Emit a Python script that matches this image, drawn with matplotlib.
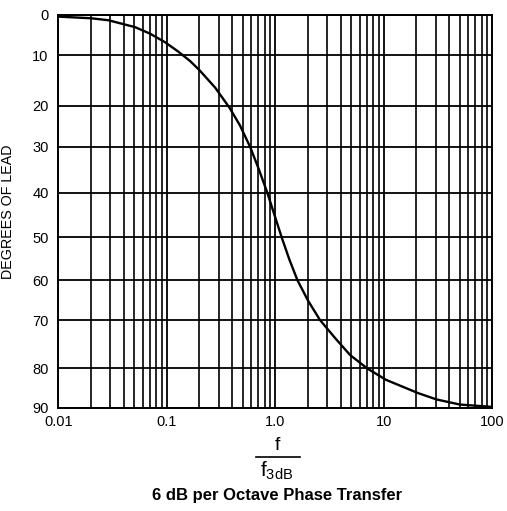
import numpy as np
import matplotlib
matplotlib.use('Agg')
import matplotlib.pyplot as plt
import matplotlib.ticker as ticker
from matplotlib.lines import Line2D

plt.rcParams['font.family'] = ['Liberation Sans', 'DejaVu Sans']
plt.rcParams['mathtext.fontset'] = 'custom'
plt.rcParams['mathtext.rm'] = 'Liberation Sans'

# values
freq_ratio = [0.01, 0.02, 0.029, 0.051, 0.07, 0.096, 0.127, 0.164, 0.2, 0.28, 0.38, 0.473,
              0.585, 0.70, 0.844, 1.146, 1.35, 1.6, 2.0, 2.58, 3.55, 4.88, 7.05, 10.5,
              20.8, 30.7, 50.4, 100]
degrees_lead = [0.4, 0.8, 1.3, 3.0, 4.6, 6.7, 9.0, 11.1, 12.9, 16.4, 20.5, 24.8,
                30, 34.7, 40, 50, 55.2, 60, 65.1, 70, 73.7, 77.2, 80, 82.9,
                86.3, 87.9, 89.2, 89.8]

x_ticks = [0.01, 0.1, 1.0, 10, 100]
x_labels = ['0.01', '0.1', '1.0', '10', '100']
y_ticks = [0, 10, 20, 30, 40, 50, 60, 70, 80, 90]

# the printed grid is not evenly spaced, so map degrees through the drawn rows
row_px = [0, 40.5, 91, 131.7, 177.7, 222.5, 265.2, 305, 353.5, 392.7]


def fwd(d):
    return np.interp(d, y_ticks, row_px)


def inv(v):
    return np.interp(v, row_px, y_ticks)


W, H = 507, 511
fig = plt.figure(figsize=(W / 100, H / 100), dpi=100)
ax = fig.add_axes([58.3 / W, 1 - 407.7 / H, 434 / W, 392.7 / H])

ax.set_xscale('log')
ax.set_yscale('function', functions=(fwd, inv))
ax.set_xlim(0.01, 100)
ax.set_ylim(90, 0)

ax.plot(freq_ratio, degrees_lead, color='black', lw=1.7,
        solid_capstyle='round', solid_joinstyle='round', zorder=3)

ax.set_xticks(x_ticks)
ax.set_xticklabels(x_labels)
ax.xaxis.set_minor_locator(ticker.LogLocator(base=10, subs=np.arange(2, 10)))
ax.xaxis.set_minor_formatter(ticker.NullFormatter())
ax.set_yticks(y_ticks)
ax.set_yticklabels([str(t) for t in y_ticks])

ax.grid(which='major', axis='both', color='black', lw=1.3)
ax.grid(which='minor', axis='x', color='black', lw=1.2)
ax.tick_params(which='both', length=0)
ax.tick_params(axis='x', pad=5, labelsize=10.5)
ax.tick_params(axis='y', pad=7, labelsize=10.5)

for s in ax.spines.values():
    s.set_linewidth(1.4)
    s.set_color('black')

ax.set_ylabel('DEGREES OF LEAD', fontsize=10.3)
ax.yaxis.set_label_coords((15 - 58.3) / 434, 0.5)

# f / f3dB fraction under the axis
cx = 277 / W
fig.text(cx, 1 - 446 / H, 'f', ha='center', va='center', fontsize=14)
fig.add_artist(Line2D([256 / W, 300 / W], [1 - 457 / H, 1 - 457 / H],
                      color='black', lw=1.2))
fig.text(cx, 1 - 471 / H, r'$\mathregular{f_{3dB}}$', ha='center', va='center', fontsize=15)
fig.text(cx, 1 - 495 / H, '6 dB per Octave Phase Transfer', ha='center', va='center',
         fontsize=12, fontweight='bold')

fig.savefig('out.png', dpi=100)
plt.close('all')
